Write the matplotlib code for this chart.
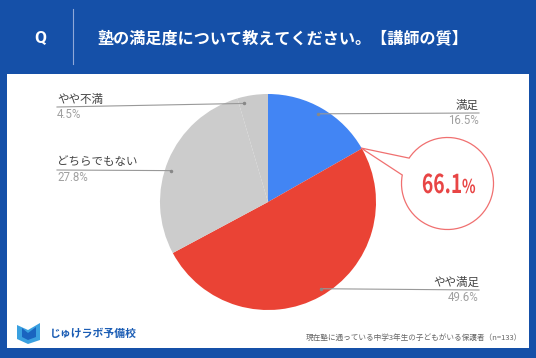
import numpy as np
import matplotlib.pyplot as plt
from matplotlib.patches import Rectangle, PathPatch, Polygon
from matplotlib.path import Path
from matplotlib.textpath import TextPath
from matplotlib.font_manager import FontProperties
from matplotlib.transforms import Affine2D

plt.rcParams['font.family'] = ['Noto Sans CJK JP', 'DejaVu Sans']

# data
title = "塾の満足度について教えてください。【講師の質】"
labels = ["満足", "やや満足", "どちらでもない", "やや不満"]
shares = [16.5, 49.6, 27.8, 4.5]
colors = ["#4285F4", "#EA4335", "#CCCCCC", "#CACACA"]
highlight_num = "66.1"
note = "現在塾に通っている中学3年生の子どもがいる保護者（n=133）"

BLUE = "#1550A8"
RED = "#E84545"

fig = plt.figure(figsize=(5.36, 3.58), dpi=100)
fig.patch.set_facecolor(BLUE)
ax = fig.add_axes([0, 0, 1, 1])

# header
ax.text(40, 38, "Q", color="white", fontsize=12.5, fontweight="bold",
        ha="center", va="center", family=["Roboto", "DejaVu Sans"])
ax.plot([73, 73], [9, 64], color="#8FA8D8", lw=0.8)
ax.text(97, 38, title, color="white", fontsize=11.6, fontweight="bold",
        ha="left", va="center")

# white panel
ax.add_patch(Rectangle((7, 74), 522, 274, facecolor="white", edgecolor="none"))

# pie (y axis is flipped, so angles are mirrored)
cx, cy, r = 268, 202, 108
wedges, _ = ax.pie(shares, colors=colors, startangle=-90, counterclock=True,
                   center=(cx, cy), radius=r, frame=True,
                   wedgeprops=dict(linewidth=0))
ax.set_xlim(0, 536)
ax.set_ylim(358, 0)
ax.set_aspect("equal")
ax.axis("off")

# leader lines and labels
cum = np.cumsum([0] + shares[:-1])
label_pos = {
    "満足": (479, 113, "right"),
    "やや満足": (479, 290, "right"),
    "どちらでもない": (57, 170, "left"),
    "やや不満": (57, 107, "left"),
}
for lab, s, c0 in zip(labels, shares, cum):
    ang = np.deg2rad((c0 + s / 2) / 100 * 360)
    px = cx + 0.94 * r * np.sin(ang)
    py = cy - 0.94 * r * np.cos(ang)
    lx, ly, ha = label_pos[lab]
    ax.plot([lx, px], [ly, py], color="#999999", lw=0.8)
    ax.plot([px], [py], "o", color="#888888", ms=1.5)
    ax.text(lx, ly - 1.5, lab, ha=ha, va="bottom", fontsize=8.3, color="#444444")
    ax.text(lx, ly + 1, f"{s}%", ha=ha, va="top", fontsize=8.3, color="#A0A0A0",
            family=["Roboto", "DejaVu Sans"])

# speech bubble
bx, by, br = 447.5, 183.5, 46
tip = (361, 148)
arc = Path.arc(213.5, 550.6)
verts = np.vstack([arc.vertices * br + [bx, by], tip, tip])
codes = list(arc.codes) + [Path.LINETO, Path.CLOSEPOLY]
ax.add_patch(PathPatch(Path(verts, codes), facecolor="white",
                       edgecolor="#F07070", lw=0.9, zorder=5))

# condensed bold number inside the bubble
fp = FontProperties(family="Noto Sans CJK JP", weight="bold")
num_path = TextPath((0, 0), highlight_num, size=26, prop=fp)
pct_path = TextPath((0, 0), "%", size=19, prop=fp)
sx = 0.74
num_w = num_path.get_extents().x1 * sx
pct_w = pct_path.get_extents().x1 * sx
x0 = bx + 1 - (num_w + pct_w + 1) / 2
base = 193
ax.add_patch(PathPatch(num_path.transformed(Affine2D().scale(sx, -1).translate(x0, base)),
                       facecolor=RED, edgecolor="none", zorder=6))
ax.add_patch(PathPatch(pct_path.transformed(Affine2D().scale(sx, -1).translate(x0 + num_w + 1, base)),
                       facecolor=RED, edgecolor="none", zorder=6))

# logo
ax.add_patch(Polygon([[17, 325], [28, 330], [40, 323], [40, 340], [28, 344], [17, 339]],
                     closed=True, facecolor="#3AA0E0", edgecolor="none"))
ax.add_patch(Polygon([[22, 328], [28, 333], [36, 327], [36, 337], [28, 340], [22, 337]],
                     closed=True, facecolor="#1A64C0", edgecolor="none"))
ax.text(50, 334, "じゅけラボ予備校", ha="left", va="center", fontsize=7.8,
        fontweight="bold", color="#1A5CB4")

# footnote
ax.text(522, 338, note, ha="right", va="center", fontsize=5.5, color="#666666")

fig.savefig("out.png", dpi=100, facecolor=BLUE)
